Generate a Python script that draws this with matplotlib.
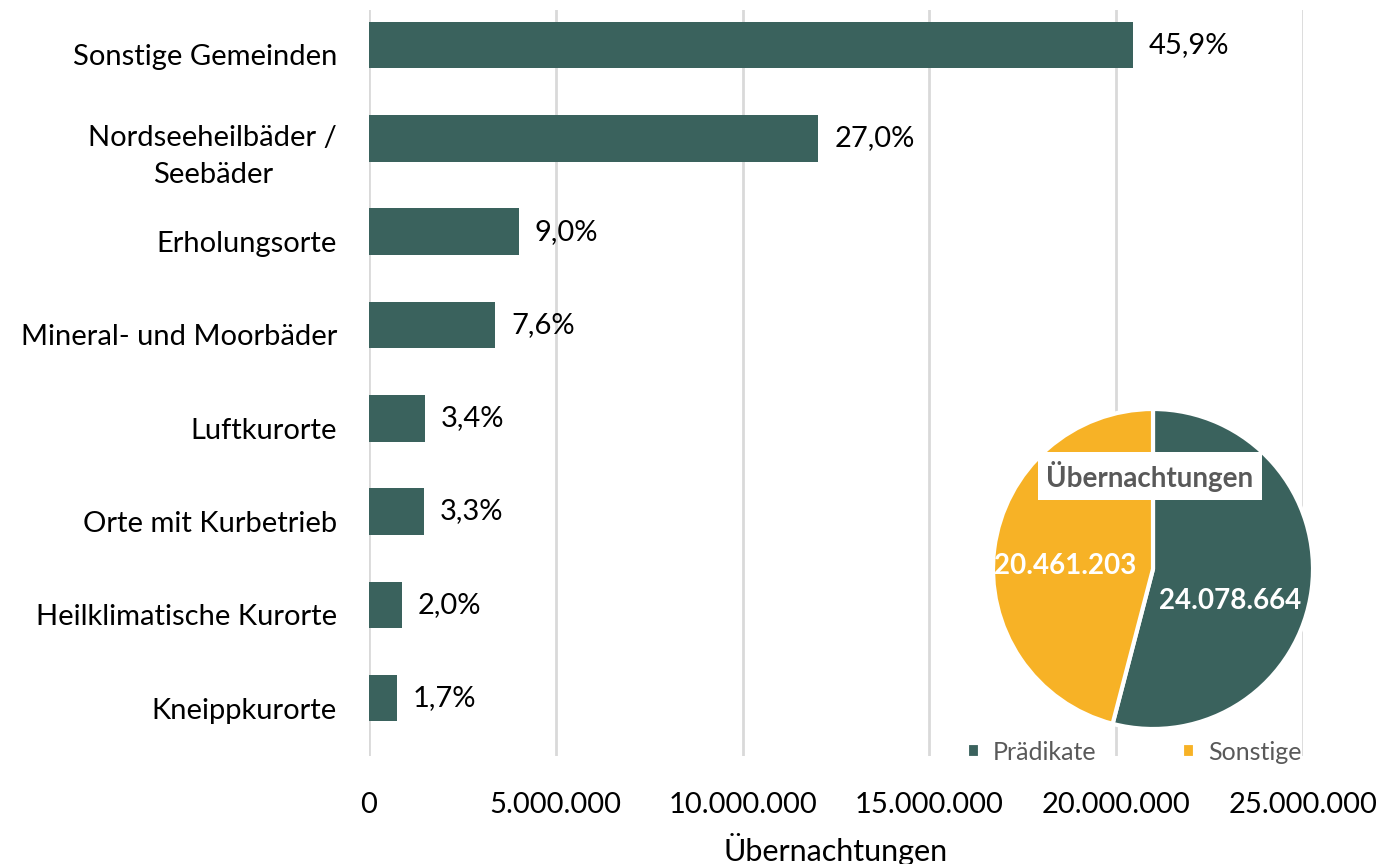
import matplotlib
matplotlib.use("Agg")
import matplotlib.pyplot as plt
import matplotlib.transforms as mtransforms
from matplotlib.ticker import FuncFormatter

plt.rcParams['font.family'] = ['Lato', 'DejaVu Sans']

# Data
categories = [
    "Sonstige Gemeinden",
    "Nordseeheilbäder /\nSeebäder",
    "Erholungsorte",
    "Mineral- und Moorbäder",
    "Luftkurorte",
    "Orte mit Kurbetrieb",
    "Heilklimatische Kurorte",
    "Kneippkurorte",
]
overnights = [20461203, 12030000, 4010000, 3380000, 1510000, 1470000, 890000, 760000]
share_labels = ["45,9%", "27,0%", "9,0%", "7,6%", "3,4%", "3,3%", "2,0%", "1,7%"]

pie_labels = ["Prädikate", "Sonstige"]
pie_values = [24078664, 20461203]
pie_value_text = ["24.078.664", "20.461.203"]

TEAL = "#3A625D"
YELLOW = "#F7B226"
GRID = "#D9D9D9"
GRAY_TXT = "#595959"

fig = plt.figure(figsize=(13.81, 8.64), dpi=100)
W, H = 1381, 864

# main bar axes: x 369..1303 px, y 10..756 px
ax = fig.add_axes([369 / W, (H - 756) / H, (1303 - 369) / W, (756 - 10) / H])
ypos = range(len(categories))
ax.barh(ypos, overnights, height=0.5, color=TEAL, zorder=3)
for y, v, lab in zip(ypos, overnights, share_labels):
    ax.text(v + 420000, y, lab, va="center", ha="left", fontsize=21, color="black")

ax.set_xlim(0, 25000000)
ax.set_ylim(7.62, -0.375)
ax.set_xticks(range(0, 25000001, 5000000))
ax.xaxis.set_major_formatter(FuncFormatter(lambda v, p: f"{int(v):,}".replace(",", ".")))
ax.set_yticks(list(ypos))
ax.set_yticklabels(categories, fontsize=21, ha="right", multialignment="center",
                   linespacing=1.55)
ax.tick_params(axis="y", length=0, pad=23)
ax.tick_params(axis="x", length=0, labelsize=21, pad=26)
# category labels sit a little below the bar centres
shift = mtransforms.ScaledTranslation(0, -10 / 100, fig.dpi_scale_trans)
for t in ax.get_yticklabels():
    t.set_transform(t.get_transform() + shift)
ax.grid(axis="x", color=GRID, linewidth=2, zorder=0)
for s in ax.spines.values():
    s.set_visible(False)
ax.set_xlabel("Übernachtungen", fontsize=22, labelpad=11)

# pie inset, centre (1153, 569), radius 160 px
r = 160
pax = fig.add_axes([(1153 - r) / W, (H - 569 - r) / H, 2 * r / W, 2 * r / H])
wedges, _ = pax.pie(pie_values, colors=[TEAL, YELLOW], startangle=90, counterclock=False,
                    wedgeprops=dict(edgecolor="white", linewidth=3))
pax.set_xlim(-1, 1)
pax.set_ylim(-1, 1)
pax.set_aspect("equal")
pax.text(0.48, -0.2, pie_value_text[0], color="white", fontsize=20, fontweight="bold",
         ha="center", va="center")
pax.text(-0.55, 0.02, pie_value_text[1], color="white", fontsize=20, fontweight="bold",
         ha="center", va="center")
pax.text(-0.02, 0.58, "Übernachtungen", color=GRAY_TXT, fontsize=20, fontweight="bold",
         ha="center", va="center",
         bbox=dict(facecolor="white", edgecolor="none", boxstyle="square,pad=0.3"))

fig.legend(wedges, pie_labels, ncol=2, frameon=False, fontsize=18, labelcolor=GRAY_TXT,
           loc="center", bbox_to_anchor=(1134 / W, (H - 752) / H),
           handlelength=0.55, handleheight=0.55, handletextpad=0.5, columnspacing=3.4)

fig.savefig("out.png", dpi=100)
